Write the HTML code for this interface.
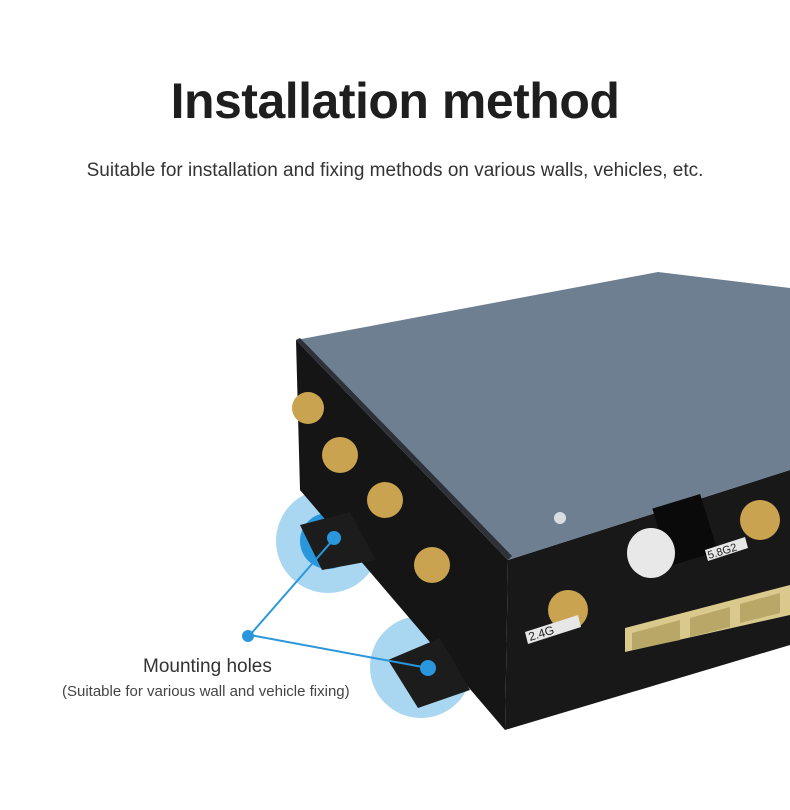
<!DOCTYPE html>
<html><head><style>
body{margin:0;width:790px;height:810px;background:#fff;overflow:hidden;font-family:"Liberation Sans",sans-serif;position:relative}
h1{position:absolute;top:72px;left:0;width:790px;text-align:center;margin:0;font-size:50px;font-weight:bold;color:#1e1e1e;letter-spacing:-0.5px}
.sub{position:absolute;top:160px;left:0;width:790px;text-align:center;font-size:19px;color:#333}
.l1{position:absolute;left:143px;top:656px;font-size:19px;color:#333}
.l2{position:absolute;left:62px;top:683px;font-size:15px;color:#444}
svg{position:absolute;left:0;top:0}
</style></head><body>
<h1>Installation method</h1>
<div class="sub">Suitable for installation and fixing methods on various walls, vehicles, etc.</div>
<svg width="790" height="810">
<circle cx="328" cy="541" r="52" fill="#a9d6f1"/>
<circle cx="328" cy="541" r="28" fill="#2a97dc"/>
<circle cx="421" cy="667" r="51" fill="#a9d6f1"/>
<polygon points="296,340 508,560 505,730 300,490" fill="#151515"/>
<polygon points="508,560 790,470 790,645 505,730" fill="#181818"/>
<polygon points="296,340 658,272 790,288 790,470 508,560" fill="#6e7f91"/>
<polygon points="296,340 508,560 512,556 300,338" fill="#2e3238"/>
<polygon points="300,525 350,512 376,560 322,570" fill="#1c1c1c"/>
<circle cx="334" cy="538" r="7" fill="#2a97dc"/>
<polygon points="388,660 440,638 470,690 418,708" fill="#1c1c1c"/>
<circle cx="428" cy="668" r="8" fill="#2a97dc"/>
<circle cx="560" cy="518" r="6" fill="#d8dde2"/>
<rect x="660" y="500" width="50" height="60" fill="#0a0a0a" transform="rotate(-17 685 530)"/>
<ellipse cx="651" cy="553" rx="24" ry="25" fill="#e8e8e8"/>
<polygon points="625,628 790,585 790,615 625,652" fill="#d9c98c"/>
<polygon points="632,633 680,620 680,640 632,650" fill="#b8a766"/>
<polygon points="690,618 730,607 730,627 690,637" fill="#b8a766"/>
<polygon points="740,604 780,593 780,613 740,623" fill="#b8a766"/>
<g fill="#c9a34f">
<circle cx="308" cy="408" r="16"/><circle cx="340" cy="455" r="18"/>
<circle cx="385" cy="500" r="18"/><circle cx="432" cy="565" r="18"/>
<circle cx="568" cy="610" r="20"/><circle cx="760" cy="520" r="20"/>
</g>
<g fill="#e7e7e7">
<polygon points="525,632 578,615 581,627 528,644"/>
<polygon points="705,550 745,537 748,548 708,561"/>
</g>
<text x="530" y="641" font-size="12" fill="#222" transform="rotate(-17 530 641)">2.4G</text>
<text x="709" y="559" font-size="11" fill="#222" transform="rotate(-17 709 559)">5.8G2</text>
<line x1="250" y1="635" x2="332" y2="541" stroke="#2a97dc" stroke-width="2"/>
<line x1="250" y1="635" x2="428" y2="668" stroke="#2a97dc" stroke-width="2"/>
<circle cx="248" cy="636" r="6" fill="#2a97dc"/>
</svg>
<div class="l1">Mounting holes</div>
<div class="l2">(Suitable for various wall and vehicle fixing)</div>
</body></html>
